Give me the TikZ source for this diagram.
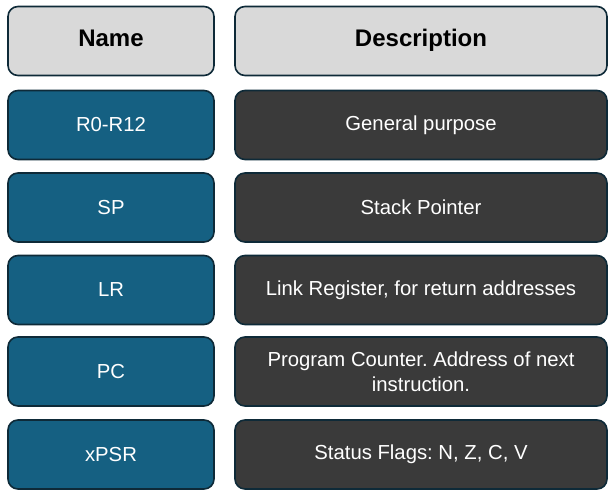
\documentclass[tikz,border=0pt]{standalone}
\usepackage{fontspec}
\setmainfont{Liberation Sans}
\frenchspacing
\definecolor{hdrfill}{HTML}{D9D9D9}
\definecolor{bluefill}{HTML}{156082}
\definecolor{darkfill}{HTML}{3A3A3A}
\definecolor{edge}{HTML}{0E2A38}
\begin{document}
\begin{tikzpicture}[x=1pt,y=-1pt,
  cell/.style={draw=edge,line width=1.6pt,rounded corners=10pt,minimum height=69pt,inner sep=0pt,align=center},
  namecell/.style={cell,minimum width=206pt},
  desccell/.style={cell,minimum width=372pt},
  hdr/.style={fill=hdrfill,text=black,font=\fontsize{24}{28}\selectfont\bfseries,text height=17pt,text depth=5pt},
  bluebox/.style={fill=bluefill,text=white,font=\fontsize{20.3}{25}\selectfont},
  darkbox/.style={fill=darkfill,text=white,font=\fontsize{20.3}{25}\selectfont}]
\useasboundingbox (0,0) rectangle (613,497);
\node[namecell,hdr] (hn) at (111,41) {Name};
\node[desccell,hdr] (hd) at (421,41) {Description};
\node[namecell,bluebox] (n1) at (111,125) {R0-R12};
\node[desccell,darkbox] (d1) at (421,125) {General purpose};
\node[namecell,bluebox] (n2) at (111,207.5) {SP};
\node[desccell,darkbox] (d2) at (421,207.5) {Stack Pointer};
\node[namecell,bluebox] (n3) at (111,290) {LR};
\node[desccell,darkbox] (d3) at (421,290) {Link Register, for return addresses};
\node[namecell,bluebox] (n4) at (111,371.5) {PC};
\node[desccell,darkbox] (d4) at (421,371.5) {Program Counter. Address of next\\instruction.};
\node[namecell,bluebox] (n5) at (111,454.5) {xPSR};
\node[desccell,darkbox] (d5) at (421,454.5) {Status Flags: N, Z, C, V};
\end{tikzpicture}
\end{document}
